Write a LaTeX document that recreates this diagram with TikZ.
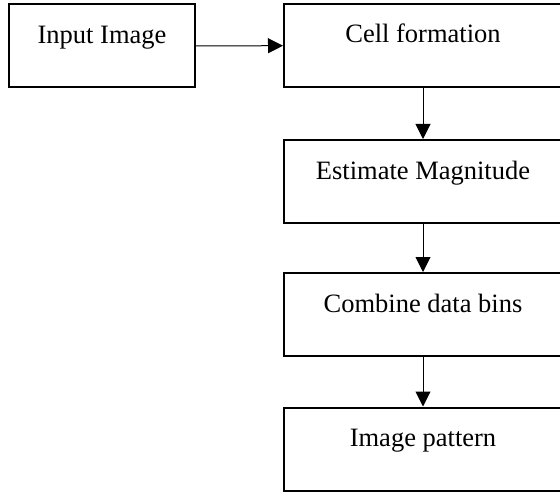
\documentclass[tikz,border=0pt]{standalone}
\usepackage{fontspec}
\setmainfont{Liberation Serif}
\usetikzlibrary{arrows.meta}

\tikzset{
  stepbox/.style={draw,line width=2pt,inner xsep=0pt,inner ysep=0pt,
    text height=39pt,text depth=44pt,minimum height=83pt,
    font=\fontsize{26.5}{30}\selectfont},
  flow/.style={line width=1pt,-{Triangle[length=15pt,width=15pt]}}
}

\begin{document}
\begin{tikzpicture}[x=1pt,y=-1pt]
  \useasboundingbox (0,0) rectangle (560,492);
  \clip (0,0) rectangle (560,492);

  \node[stepbox,minimum width=186pt] (input) at (102,46) {Input Image};
  \node[stepbox,minimum width=278pt] (cell) at (423,45.5) {Cell formation};
  \node[stepbox,minimum width=278pt] (magn) at (423,181.5) {Estimate Magnitude};
  \node[stepbox,minimum width=278pt] (bins) at (423,314.5) {Combine data bins};
  \node[stepbox,minimum width=278pt] (pattern) at (423,449) {Image pattern};

  \draw[flow] (input) -- (cell);
  \draw[flow] (cell) -- (magn);
  \draw[flow] (magn) -- (bins);
  \draw[flow] (bins) -- (pattern);
\end{tikzpicture}
\end{document}
